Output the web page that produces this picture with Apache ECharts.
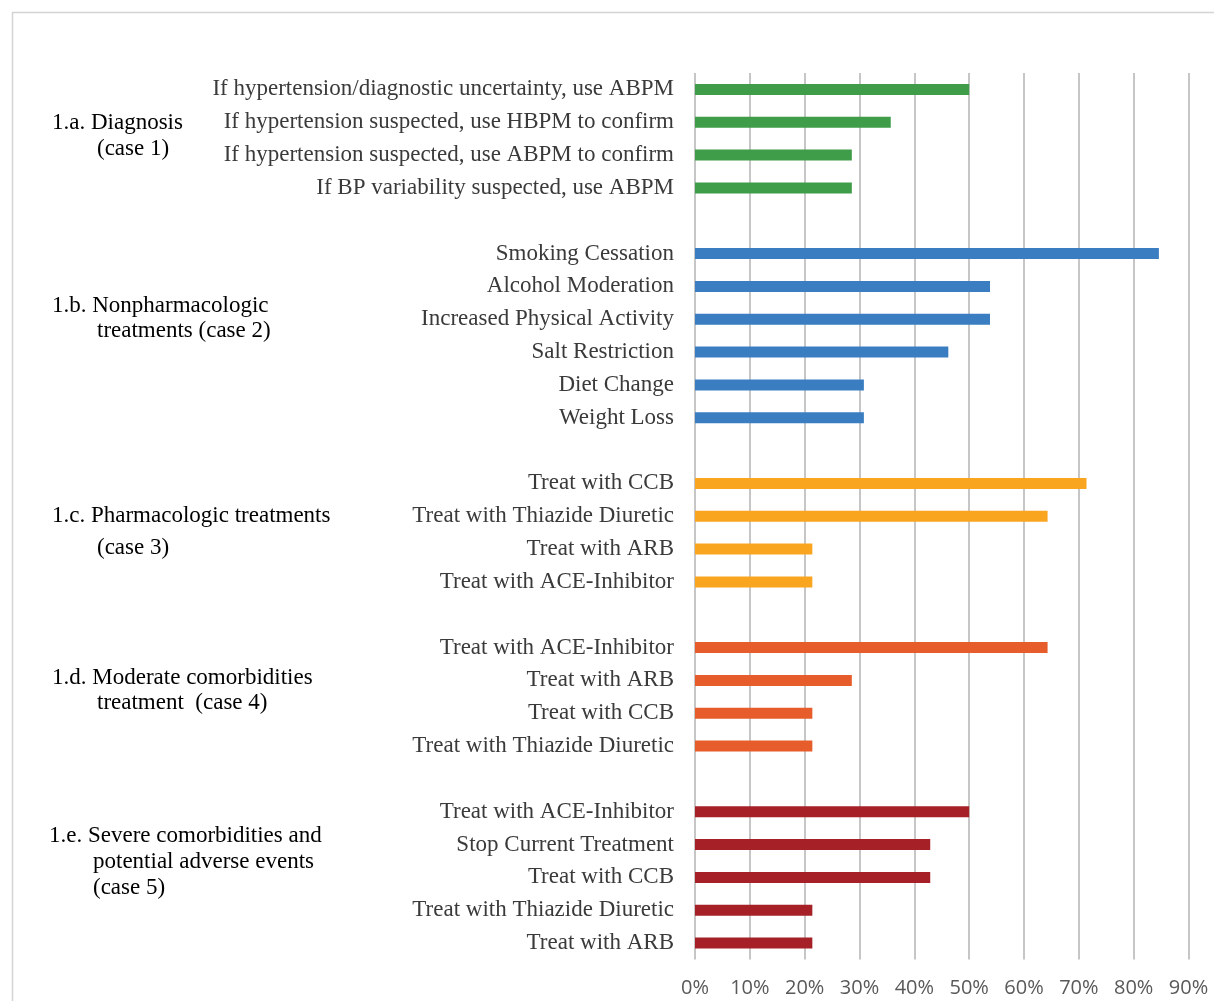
<!DOCTYPE html>
<html>
<head>
<meta charset="utf-8">
<script src="https://cdn.jsdelivr.net/npm/echarts@6/dist/echarts.min.js"></script>
<style>
html,body{margin:0;padding:0;background:#fff;}
#chart{width:1214px;height:1001px;}
</style>
</head>
<body>
<div id="chart"></div>
<script>
// ---- data ----
var diagLabels = ["If hypertension/diagnostic uncertainty, use ABPM","If hypertension suspected, use HBPM to confirm","If hypertension suspected, use ABPM to confirm","If BP variability suspected, use ABPM"];
var diagValues = [50, 35.7, 28.6, 28.6];
var nonpharmLabels = ["Smoking Cessation","Alcohol Moderation","Increased Physical Activity","Salt Restriction","Diet Change","Weight Loss"];
var nonpharmValues = [84.6, 53.8, 53.8, 46.2, 30.8, 30.8];
var pharmLabels = ["Treat with CCB","Treat with Thiazide Diuretic","Treat with ARB","Treat with ACE-Inhibitor"];
var pharmValues = [71.4, 64.3, 21.4, 21.4];
var moderateLabels = ["Treat with ACE-Inhibitor","Treat with ARB","Treat with CCB","Treat with Thiazide Diuretic"];
var moderateValues = [64.3, 28.6, 21.4, 21.4];
var severeLabels = ["Treat with ACE-Inhibitor","Stop Current Treatment","Treat with CCB","Treat with Thiazide Diuretic","Treat with ARB"];
var severeValues = [50, 42.9, 42.9, 21.4, 21.4];
var groupNames = [
  ["1.a. Diagnosis","(case 1)"],
  ["1.b. Nonpharmacologic","treatments (case 2)"],
  ["1.c. Pharmacologic treatments","(case 3)"],
  ["1.d. Moderate comorbidities","treatment  (case 4)"],
  ["1.e. Severe comorbidities and","potential adverse events","(case 5)"]
];
var xTicks = [0,10,20,30,40,50,60,70,80,90];

// ---- styles ----
var colors = ["#3F9C48","#3A7EC1","#F9A520","#E65C2B","#A52127"];
var groupLabelLayout = [
  {x:[52,97], row:[1.03,1.82]},
  {x:[52,97], row:[6.61,7.37]},
  {x:[52,97], row:[12.98,13.98]},
  {x:[52,97], row:[17.92,18.68]},
  {x:[49,93,93], row:[22.74,23.53,24.32]}
];

var groups = [
  [diagLabels, diagValues],
  [nonpharmLabels, nonpharmValues],
  [pharmLabels, pharmValues],
  [moderateLabels, moderateValues],
  [severeLabels, severeValues]
];

// build rows with a blank row between groups
var rowLabels = [];
var rowGroup = [];
var rowValue = [];
groups.forEach(function(g, gi){
  if (gi > 0) { rowLabels.push(''); rowGroup.push(-1); rowValue.push(null); }
  g[0].forEach(function(l, i){ rowLabels.push(l); rowGroup.push(gi); rowValue.push(g[1][i]); });
});
var rowIds = rowLabels.map(function(l, i){ return 'r' + i; });

var series = groups.map(function(g, gi){
  return {
    type: 'bar',
    stack: 'all',
    barWidth: 11,
    itemStyle: { color: colors[gi] },
    data: rowValue.map(function(v, i){ return rowGroup[i] === gi ? v : '-'; })
  };
});

var chart = echarts.init(document.getElementById('chart'), null, {renderer:'canvas'});
chart.setOption({
  animation: false,
  backgroundColor: '#ffffff',
  grid: { left: 695, right: 25.5, top: 73, bottom: 41.5, containLabel: false, outerBoundsMode: 'none' },
  xAxis: {
    type: 'value', min: xTicks[0], max: xTicks[xTicks.length-1], interval: 10,
    axisLine: { show: false }, axisTick: { show: false },
    splitLine: { show: true, lineStyle: { color: '#c6c6c6', width: 2 } },
    axisLabel: { formatter: '{value}%', color: '#595959', fontSize: 20, fontFamily: 'Open Sans', margin: 19 }
  },
  yAxis: {
    type: 'category', inverse: true, data: rowIds,
    axisLine: { show: false }, axisTick: { show: false }, splitLine: { show: false },
    axisLabel: { interval: 0, formatter: function(v, i){ return rowLabels[i]; }, color: '#3a3a3a', fontSize: 23, fontFamily: 'Liberation Serif', margin: 21 }
  },
  series: series
});

// group labels positioned from the category scale
var y0 = chart.convertToPixel({yAxisIndex:0}, rowIds[0]);
var y1 = chart.convertToPixel({yAxisIndex:0}, rowIds[1]);
var band = y1 - y0;
var elements = [{
  type: 'rect', left: 10, top: 10, silent: true,
  shape: { width: 1300, height: 1100 },
  style: { fill: 'none', stroke: '#d4d4d4', lineWidth: 1.5 }
}];
groupNames.forEach(function(lines, gi){
  lines.forEach(function(t, li){
    elements.push({
      type: 'text',
      x: groupLabelLayout[gi].x[li],
      y: y0 + band * groupLabelLayout[gi].row[li],
      style: { text: t, fill: '#000000', font: '23px "Liberation Serif"', textVerticalAlign: 'middle', textAlign: 'left' }
    });
  });
});
chart.setOption({ graphic: { elements: elements } });
</script>
</body>
</html>
